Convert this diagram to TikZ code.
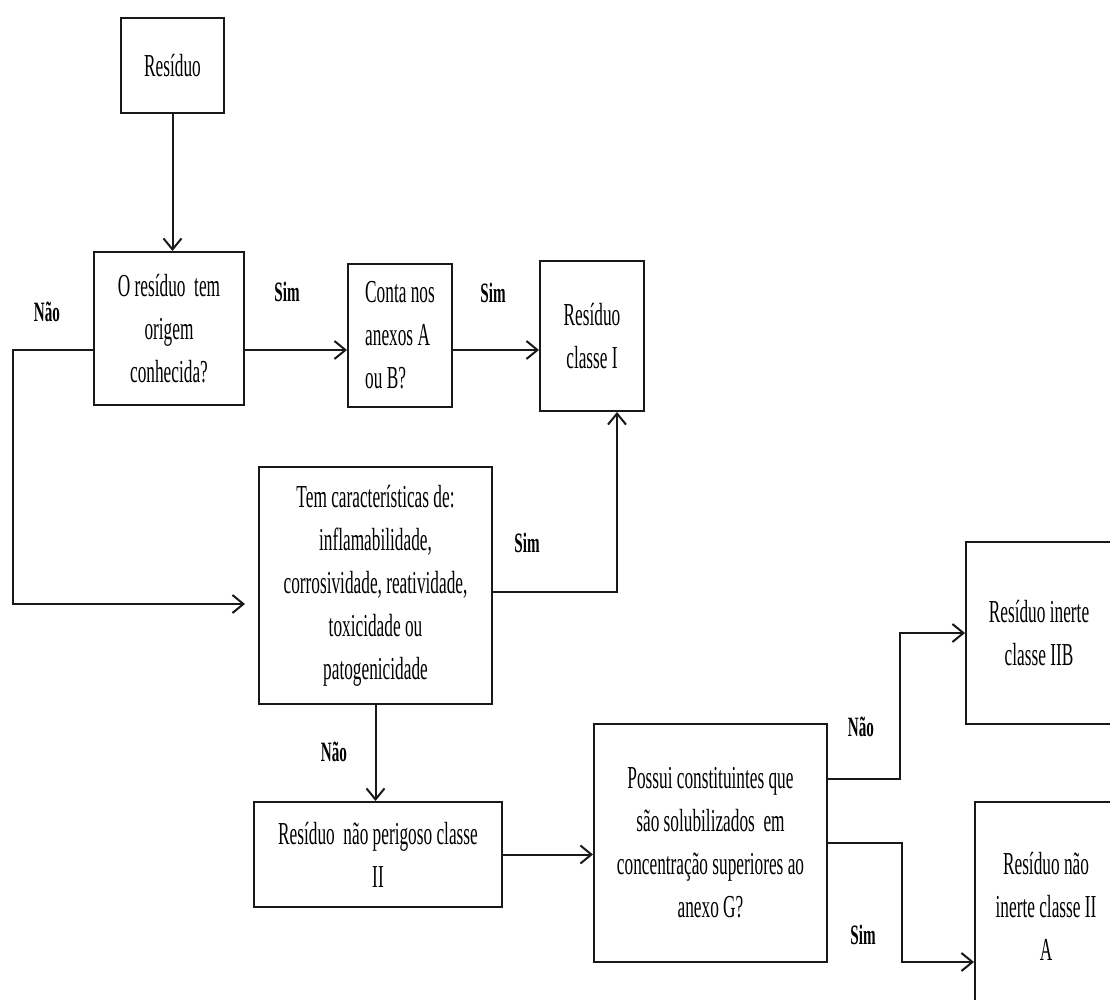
\documentclass[tikz,border=0pt]{standalone}
\usepackage{fontspec}
\setmainfont{Liberation Serif}[FakeStretch=0.54]
\usetikzlibrary{arrows.meta}
\tikzset{
  box/.style={rectangle, draw=black!90, line width=2pt, align=center,
    inner sep=0pt, font=\fontsize{32}{43}\selectfont},
  arrow/.style={-{Straight Barb[length=11pt,width=18pt]}, line width=2pt, color=black!90},
  lbl/.style={font=\fontsize{28}{30}\selectfont\bfseries, inner sep=0pt}
}

\begin{document}
\begin{tikzpicture}[x=1pt, y=-1pt]
  \fill[white] (0,0) rectangle (1110,1000);
  \useasboundingbox (0,0) rectangle (1110,1000);

  % boxes
  \node[box, minimum width=103pt, minimum height=95pt] (res) at (172.5,65.5) {Resíduo};
  \node[box, minimum width=150pt, minimum height=153pt] (orig) at (169,328.5)
    {O resíduo~ tem\\ origem\\ conhecida?};
  \node[box, align=left, minimum width=104pt, minimum height=143pt] (anexo) at (400,335.5)
    {Conta nos\\ anexos A\\ ou B?};
  \node[box, minimum width=104pt, minimum height=150pt] (cls1) at (592,336)
    {Resíduo\\ classe I};
  \node[box, minimum width=233pt, minimum height=237pt] (carac) at (375.5,585.5)
    {Tem características de:\\ inflamabilidade,\\ corrosividade, reatividade,\\ toxicidade ou\\ patogenicidade};
  \node[box, minimum width=248pt, minimum height=105pt] (perig) at (378,854.5)
    {Resíduo~ não perigoso classe\\ II};
  \node[box, minimum width=233pt, minimum height=238pt] (solub) at (710.5,843)
    {Possui constituintes que\\ são solubilizados~ em\\ concentração superiores ao\\ anexo G?};
  \node[box, minimum width=146pt, minimum height=182pt] (inerte) at (1039,633)
    {Resíduo inerte\\ classe IIB};
  \node[box, minimum width=142pt, minimum height=208pt] (ninerte) at (1046,906)
    {Resíduo não\\ inerte classe II\\ A};

  % bends
  \coordinate (rowA) at (0,350);
  \coordinate (naoA) at (13,350);
  \coordinate (naoB) at (13,604);
  \coordinate (simA) at (617,592);
  \coordinate (naoC) at (900,779);
  \coordinate (simC) at (902,843);
  \coordinate (simD) at (902,962);

  % connectors
  \draw[arrow] (res.south) -- (res.south |- orig.north);
  \draw[arrow] (orig.east |- rowA) -- (anexo.west |- rowA);
  \draw[arrow] (anexo.east |- rowA) -- (cls1.west |- rowA);
  \draw[arrow, shorten >=13pt] (orig.west |- naoA) -- (naoA) -- (naoB) -- (carac.west |- naoB);
  \draw[arrow] (carac.east |- simA) -- (simA) -- (simA |- cls1.south);
  \draw[arrow] (carac.south) -- (carac.south |- perig.north);
  \draw[arrow] (perig.east) -- (perig.east -| solub.west);
  \draw[arrow] (solub.east |- naoC) -- (naoC) -- (naoC |- inerte.west) -- (inerte.west);
  \draw[arrow] (solub.east |- simC) -- (simC) -- (simD) -- (ninerte.west |- simD);

  % labels
  \node[lbl] (nao1) at (47,312) {Não};
  \node[lbl] (sim1) at (287,292) {Sim};
  \node[lbl] (sim2) at (493,293) {Sim};
  \node[lbl] (sim3) at (527,543) {Sim};
  \node[lbl] (nao2) at (334,752) {Não};
  \node[lbl] (nao3) at (861,727) {Não};
  \node[lbl] (sim4) at (863,935) {Sim};
\end{tikzpicture}
\end{document}
